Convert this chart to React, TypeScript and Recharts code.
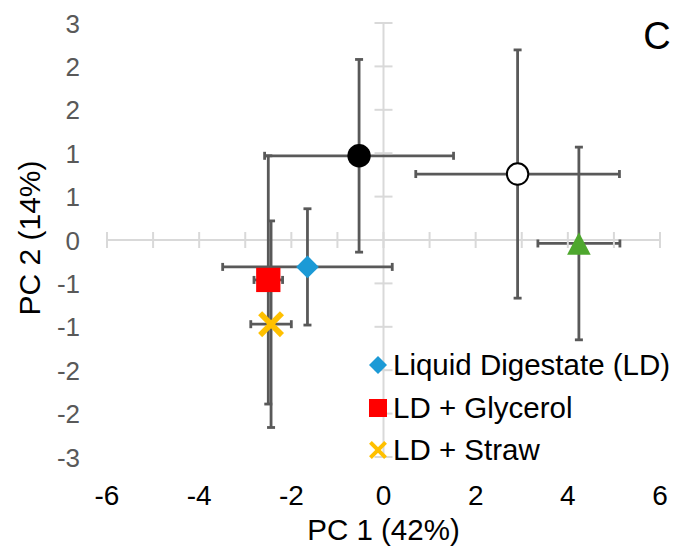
import React from "react";
import {
  ScatterChart,
  Scatter,
  XAxis,
  YAxis,
  ErrorBar,
  ReferenceLine,
  Legend,
} from "recharts";

// PCA scores (mean ± SD) per treatment
const treatments = [
  "Treatment A",
  "Treatment B",
  "Treatment C",
  "Liquid Digestate (LD)",
  "LD + Glycerol",
  "LD + Straw",
];
const pc1 = [-0.53, 2.91, 4.24, -1.65, -2.5, -2.44];
const pc2 = [0.97, 0.76, -0.04, -0.31, -0.46, -0.97];
const pc1Sd = [2.05, 2.21, 0.89, 1.84, 0.31, 0.44];
const pc2Sd = [1.11, 1.43, 1.11, 0.67, 1.43, 1.19];
const markerKinds = ["dot", "ring", "triangle", "diamond", "square", "cross"];
const markerColors = ["#000000", "#FFFFFF", "#4EA72E", "#1C9AD6", "#FF0000", "#FFC000"];
const legendSeries = ["Liquid Digestate (LD)", "LD + Glycerol", "LD + Straw"];

const xTicks = [-6, -5, -4, -3, -2, -1, 0, 1, 2, 3, 4, 5, 6];
const xLabelTicks = [-6, -4, -2, 0, 2, 4, 6];
const yTicks = [-2.5, -2, -1.5, -1, -0.5, 0, 0.5, 1, 1.5, 2, 2.5];

const WIDTH = 684;
const HEIGHT = 549;
const PLOT_LEFT = 107;
const PLOT_TOP = 23;
const PLOT_RIGHT = 24;
const X_AXIS_H = 92;
const PLOT_W = WIDTH - PLOT_LEFT - PLOT_RIGHT;
const PLOT_H = HEIGHT - PLOT_TOP - X_AXIS_H;
const X_MIN = -6;
const X_MAX = 6;
const Y_MIN = -2.5;
const Y_MAX = 2.5;
const ZERO_X = PLOT_LEFT + (PLOT_W * (0 - X_MIN)) / (X_MAX - X_MIN);
const ZERO_Y = PLOT_TOP + (PLOT_H * Y_MAX) / (Y_MAX - Y_MIN);

const FONT = "'Liberation Sans', Arial, sans-serif";
const AXIS_GRAY = "#D9D9D9";
const BAR_GRAY = "#595959";

// Excel "0" number format: rounds half away from zero
const fmt = (v: number) => String(Math.sign(v) * Math.round(Math.abs(v)));

function Marker({ kind, color, cx, cy, size }: any) {
  const h = size / 2;
  switch (kind) {
    case "dot":
      return <circle cx={cx} cy={cy} r={h} fill={color} />;
    case "ring":
      return <circle cx={cx} cy={cy} r={h - 1} fill={color} stroke="#000" strokeWidth={2} />;
    case "triangle":
      return (
        <polygon
          points={`${cx},${cy - h * 0.96} ${cx + h},${cy + h * 0.96} ${cx - h},${cy + h * 0.96}`}
          fill={color}
        />
      );
    case "diamond":
      return (
        <polygon
          points={`${cx},${cy - h} ${cx + h},${cy} ${cx},${cy + h} ${cx - h},${cy}`}
          fill={color}
        />
      );
    case "square":
      return <rect x={cx - h} y={cy - h} width={size} height={size} fill={color} />;
    case "cross": {
      const a = h * 0.84;
      const sw = size * 0.22;
      return (
        <g stroke={color} strokeWidth={sw}>
          <line x1={cx - a} y1={cy - a} x2={cx + a} y2={cy + a} />
          <line x1={cx - a} y1={cy + a} x2={cx + a} y2={cy - a} />
        </g>
      );
    }
    default:
      return null;
  }
}

const markerSizes: Record<string, number> = {
  dot: 23.4,
  ring: 23.4,
  triangle: 23.6,
  diamond: 22.7,
  square: 24.3,
  cross: 26,
};

const XTick = ({ x, payload }: any) => {
  const v = payload.value;
  return (
    <g>
      <line x1={x} x2={x} y1={ZERO_Y - 8} y2={ZERO_Y + 8} stroke={AXIS_GRAY} strokeWidth={2} />
      {xLabelTicks.includes(v) && (
        <text x={x} y={PLOT_TOP + PLOT_H + 48} textAnchor="middle" fontSize={28} fill="#000" fontFamily={FONT}>
          {fmt(v)}
        </text>
      )}
    </g>
  );
};

const YTick = ({ y, payload }: any) => (
  <g>
    <line x1={ZERO_X - 9} x2={ZERO_X + 9} y1={y} y2={y} stroke={AXIS_GRAY} strokeWidth={2} />
    <text x={80} y={y + 9.5} textAnchor="end" fontSize={26} fill="#595959" fontFamily={FONT}>
      {fmt(payload.value)}
    </text>
  </g>
);

const renderLegend = () => (
  <div style={{ fontFamily: FONT, fontSize: 29.5, color: "#000", lineHeight: "42.5px" }}>
    {legendSeries.map((name) => {
      const i = treatments.indexOf(name);
      return (
        <div key={name} style={{ display: "flex", alignItems: "center", height: 42.5 }}>
          <svg width={24} height={24}>
            <Marker kind={markerKinds[i]} color={markerColors[i]} cx={12} cy={12} size={18} />
          </svg>
          <span style={{ marginLeft: 3, whiteSpace: "nowrap" }}>{name}</span>
        </div>
      );
    })}
  </div>
);

export default function App() {
  const series = treatments.map((name, i) => ({
    name,
    kind: markerKinds[i],
    color: markerColors[i],
    data: [{ x: pc1[i], y: pc2[i], ex: pc1Sd[i], ey: pc2Sd[i] }],
  }));

  return (
    <div style={{ position: "absolute", left: 0, top: 0, width: WIDTH, height: HEIGHT, background: "#fff", fontFamily: FONT }}>
      <ScatterChart
        width={WIDTH}
        height={HEIGHT}
        margin={{ top: PLOT_TOP, right: PLOT_RIGHT, left: 0, bottom: 0 }}
      >
        <XAxis
          type="number"
          dataKey="x"
          domain={[X_MIN, X_MAX]}
          ticks={xTicks}
          interval={0}
          height={X_AXIS_H}
          axisLine={false}
          tickLine={false}
          tick={<XTick />}
          allowDataOverflow
        />
        <YAxis
          type="number"
          dataKey="y"
          domain={[Y_MIN, Y_MAX]}
          ticks={yTicks}
          interval={0}
          width={PLOT_LEFT}
          axisLine={false}
          tickLine={false}
          tick={<YTick />}
          allowDataOverflow
        />
        <ReferenceLine x={0} stroke={AXIS_GRAY} strokeWidth={2} />
        <ReferenceLine y={0} stroke={AXIS_GRAY} strokeWidth={2} />
        {series.map((s) => (
          <Scatter
            key={s.name}
            name={s.name}
            data={s.data}
            isAnimationActive={false}
            shape={(p: any) => (
              <Marker kind={s.kind} color={s.color} cx={p.cx} cy={p.cy} size={markerSizes[s.kind]} />
            )}
          >
            <ErrorBar dataKey="ex" direction="x" width={4} strokeWidth={2.8} stroke={BAR_GRAY} isAnimationActive={false} />
            <ErrorBar dataKey="ey" direction="y" width={4} strokeWidth={2.8} stroke={BAR_GRAY} isAnimationActive={false} />
          </Scatter>
        ))}
        <Legend
          layout="horizontal"
          verticalAlign="middle"
          align="center"
          content={renderLegend}
          wrapperStyle={{ left: 366, top: 344, width: 318 }}
        />
        <text x={ZERO_X} y={540} textAnchor="middle" fontSize={29.5} fill="#000" fontFamily={FONT}>
          PC 1 (42%)
        </text>
        <text
          transform={`translate(40, ${ZERO_Y - 2}) rotate(-90)`}
          textAnchor="middle"
          fontSize={30}
          fill="#000"
          fontFamily={FONT}
        >
          PC 2 (14%)
        </text>
        <text x={657} y={49} textAnchor="middle" fontSize={38} fill="#000" fontFamily={FONT}>
          C
        </text>
      </ScatterChart>
    </div>
  );
}
